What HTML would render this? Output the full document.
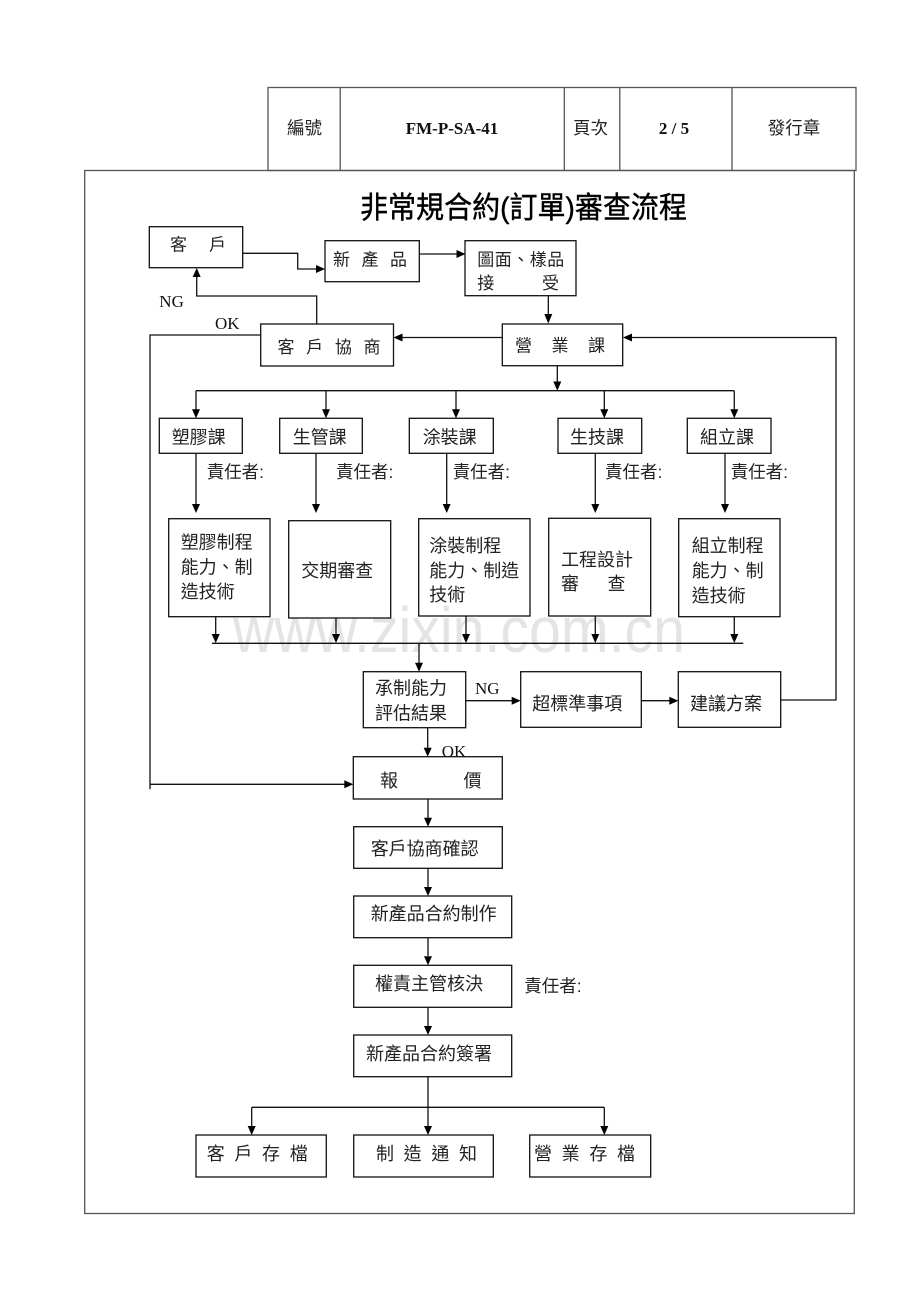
<!DOCTYPE html>
<html><head><meta charset="utf-8"><style>
html,body{margin:0;padding:0;background:#fff;}
svg{display:block;}
.t{font-family:"Liberation Sans","Noto Sans CJK TC",sans-serif;fill:#222;}
.s{font-family:"Liberation Serif","Noto Serif CJK SC",serif;fill:#111;}
</style></head><body>
<svg width="920" height="1302" viewBox="0 0 920 1302" xmlns="http://www.w3.org/2000/svg">
<rect width="920" height="1302" fill="#fff"/>
<!-- watermark -->
<text x="233" y="652" font-family="Liberation Sans, sans-serif" font-size="64" textLength="452" lengthAdjust="spacingAndGlyphs" fill="#e4e4e4">www.zixin.com.cn</text>

<!-- header table -->
<g fill="none" stroke="#555" stroke-width="1.3">
<rect x="268" y="87.5" width="588" height="83"/>
<line x1="340.2" y1="87.5" x2="340.2" y2="170.5"/>
<line x1="564.3" y1="87.5" x2="564.3" y2="170.5"/>
<line x1="619.8" y1="87.5" x2="619.8" y2="170.5"/>
<line x1="732" y1="87.5" x2="732" y2="170.5"/>
<!-- frame -->
<rect x="84.7" y="170.5" width="769.6" height="1043"/>
</g>
<text class="t" x="304.5" y="134" font-size="17.5" text-anchor="middle">編號</text>
<text class="s" x="452" y="134" font-size="17" font-weight="bold" text-anchor="middle">FM-P-SA-41</text>
<text class="t" x="590.5" y="134" font-size="17.5" text-anchor="middle">頁次</text>
<text class="s" x="674" y="134" font-size="17" font-weight="bold" text-anchor="middle">2 / 5</text>
<text class="t" x="794" y="134" font-size="17.5" text-anchor="middle">發行章</text>

<!-- title -->
<text class="t" x="360" y="218" font-size="30" textLength="327" lengthAdjust="spacingAndGlyphs" style="fill:#000;stroke:#000;stroke-width:0.4">非常規合約(訂單)審查流程</text>

<!-- boxes -->
<g fill="none" stroke="#111" stroke-width="1.3">
<rect x="149.3" y="226.7" width="93.4" height="41"/>
<rect x="325" y="240.7" width="94.3" height="41"/>
<rect x="465" y="240.7" width="111" height="55"/>
<rect x="502.3" y="324" width="120.4" height="41.7"/>
<rect x="260.7" y="324" width="132.8" height="42"/>
<rect x="159.3" y="418.3" width="83" height="35"/>
<rect x="279.7" y="418.3" width="82.6" height="35"/>
<rect x="409.3" y="418.3" width="84" height="35"/>
<rect x="558" y="418.3" width="83.7" height="35"/>
<rect x="687.3" y="418.3" width="83.7" height="35"/>
<rect x="168.7" y="518.7" width="101.3" height="98"/>
<rect x="288.7" y="520.7" width="102" height="97.3"/>
<rect x="418.7" y="518.7" width="111.3" height="97.3"/>
<rect x="548.7" y="518.3" width="102" height="97.7"/>
<rect x="678.7" y="518.7" width="101.3" height="98"/>
<rect x="363.3" y="671.7" width="102.4" height="56"/>
<rect x="520.7" y="671.7" width="120.6" height="55.6"/>
<rect x="678.3" y="671.7" width="102.4" height="55.6"/>
<rect x="353.3" y="756.7" width="149" height="42.3"/>
<rect x="353.7" y="826.7" width="148.6" height="41.6"/>
<rect x="353.7" y="896" width="158" height="41.7"/>
<rect x="353.7" y="965.3" width="158" height="42"/>
<rect x="353.7" y="1035" width="158" height="41.7"/>
<rect x="196" y="1135" width="130.3" height="42"/>
<rect x="353.7" y="1135" width="139.6" height="42"/>
<rect x="529.7" y="1135" width="121" height="42"/>
</g>

<!-- connectors -->
<g fill="none" stroke="#111" stroke-width="1.3">
<polyline points="242.7,253.3 297.7,253.3 297.7,269 317,269"/>
<line x1="419.3" y1="254" x2="457" y2="254"/>
<line x1="548.3" y1="296" x2="548.3" y2="315"/>
<line x1="502.3" y1="337.5" x2="402" y2="337.5"/>
<polyline points="316.7,324 316.7,296 196.7,296 196.7,277"/>
<polyline points="260.7,335 150,335 150,789.3"/>
<line x1="150" y1="784.3" x2="345" y2="784.3"/>
<line x1="557.3" y1="365.7" x2="557.3" y2="382"/>
<line x1="196" y1="390.7" x2="734.3" y2="390.7"/>
<line x1="196" y1="390.7" x2="196" y2="410"/>
<line x1="326" y1="390.7" x2="326" y2="410"/>
<line x1="456" y1="390.7" x2="456" y2="410"/>
<line x1="604.3" y1="390.7" x2="604.3" y2="410"/>
<line x1="734.3" y1="390.7" x2="734.3" y2="410"/>
<line x1="196" y1="453.3" x2="196" y2="505"/>
<line x1="316" y1="453.3" x2="316" y2="505"/>
<line x1="446.7" y1="453.3" x2="446.7" y2="505"/>
<line x1="595.3" y1="453.3" x2="595.3" y2="505"/>
<line x1="725" y1="453.3" x2="725" y2="505"/>
<line x1="215.7" y1="616.7" x2="215.7" y2="635"/>
<line x1="336" y1="618" x2="336" y2="635"/>
<line x1="466" y1="616" x2="466" y2="635"/>
<line x1="595.3" y1="616" x2="595.3" y2="635"/>
<line x1="734.3" y1="616.7" x2="734.3" y2="635"/>
<line x1="212" y1="643.3" x2="743.3" y2="643.3"/>
<line x1="419" y1="643.3" x2="419" y2="663"/>
<line x1="465.7" y1="700.7" x2="512" y2="700.7"/>
<line x1="641.3" y1="700.7" x2="670" y2="700.7"/>
<polyline points="780.7,700 836,700 836,337.5 632,337.5"/>
<line x1="427.7" y1="727.7" x2="427.7" y2="748"/>
<line x1="428" y1="799" x2="428" y2="818"/>
<line x1="428" y1="868.3" x2="428" y2="887"/>
<line x1="428" y1="937.7" x2="428" y2="956"/>
<line x1="428" y1="1007.3" x2="428" y2="1026"/>
<line x1="428" y1="1076.7" x2="428" y2="1126"/>
<line x1="251.7" y1="1107.3" x2="604.3" y2="1107.3"/>
<line x1="251.7" y1="1107.3" x2="251.7" y2="1126"/>
<line x1="604.3" y1="1107.3" x2="604.3" y2="1126"/>
</g>

<!-- arrowheads -->
<g fill="#000" stroke="none">
<polygon points="316,265 316,273 325,269"/>
<polygon points="456.5,250 456.5,258 465.5,254"/>
<polygon points="544.3,314 552.3,314 548.3,323.5"/>
<polygon points="402.5,333.5 402.5,341.5 393.5,337.5"/>
<polygon points="192.7,277 200.7,277 196.7,268"/>
<polygon points="344.3,780.3 344.3,788.3 353.3,784.3"/>
<polygon points="553.3,381.5 561.3,381.5 557.3,390.7"/>
<polygon points="192,409.3 200,409.3 196,418.3"/>
<polygon points="322,409.3 330,409.3 326,418.3"/>
<polygon points="452,409.3 460,409.3 456,418.3"/>
<polygon points="600.3,409.3 608.3,409.3 604.3,418.3"/>
<polygon points="730.3,409.3 738.3,409.3 734.3,418.3"/>
<polygon points="192,504 200,504 196,513"/>
<polygon points="312,504 320,504 316,513"/>
<polygon points="442.7,504 450.7,504 446.7,513"/>
<polygon points="591.3,504 599.3,504 595.3,513"/>
<polygon points="721,504 729,504 725,513"/>
<polygon points="211.7,634 219.7,634 215.7,643"/>
<polygon points="332,634 340,634 336,643"/>
<polygon points="462,634 470,634 466,643"/>
<polygon points="591.3,634 599.3,634 595.3,643"/>
<polygon points="730.3,634 738.3,634 734.3,643"/>
<polygon points="415,662.7 423,662.7 419,671.7"/>
<polygon points="511.7,696.7 511.7,704.7 520.7,700.7"/>
<polygon points="669.3,696.7 669.3,704.7 678.3,700.7"/>
<polygon points="632,333.5 632,341.5 623,337.5"/>
<polygon points="423.7,747.7 431.7,747.7 427.7,756.7"/>
<polygon points="424,817.7 432,817.7 428,826.7"/>
<polygon points="424,887 432,887 428,896"/>
<polygon points="424,956.3 432,956.3 428,965.3"/>
<polygon points="424,1026 432,1026 428,1035"/>
<polygon points="424,1126 432,1126 428,1135"/>
<polygon points="247.7,1126 255.7,1126 251.7,1135"/>
<polygon points="600.3,1126 608.3,1126 604.3,1135"/>
</g>

<!-- labels -->
<g class="t">
<text class="t" x="170" y="250.5" font-size="17" textLength="56">客戶</text>
<text class="t" x="333" y="265.5" font-size="17" textLength="74">新產品</text>
<text class="t" x="477.3" y="265.5" font-size="17" textLength="87">圖面、樣品</text>
<text class="t" x="477.3" y="289" font-size="17">接</text>
<text class="t" x="542" y="289" font-size="17">受</text>
<text class="t" x="515" y="351.5" font-size="17" textLength="90">營業課</text>
<text class="t" x="277.5" y="353" font-size="17" textLength="103">客戶協商</text>

<text class="t" x="171.7" y="443.5" font-size="18">塑膠課</text>
<text class="t" x="292.7" y="443.5" font-size="18">生管課</text>
<text class="t" x="422.7" y="443.5" font-size="18">涂裝課</text>
<text class="t" x="570" y="443.5" font-size="18">生技課</text>
<text class="t" x="700" y="443.5" font-size="18">組立課</text>

<text class="t" x="206.7" y="478" font-size="17.5">責任者:</text>
<text class="t" x="336" y="478" font-size="17.5">責任者:</text>
<text class="t" x="452.7" y="478" font-size="17.5">責任者:</text>
<text class="t" x="605" y="478" font-size="17.5">責任者:</text>
<text class="t" x="730.7" y="478" font-size="17.5">責任者:</text>

<text class="t" x="180.7" y="548.5" font-size="18">塑膠制程</text>
<text class="t" x="180.7" y="573.5" font-size="18">能力、制</text>
<text class="t" x="180.7" y="598" font-size="18">造技術</text>

<text class="t" x="301.3" y="577" font-size="18">交期審查</text>

<text class="t" x="429.3" y="552" font-size="18">涂裝制程</text>
<text class="t" x="429.3" y="577" font-size="18">能力、制造</text>
<text class="t" x="429.3" y="601" font-size="18">技術</text>

<text class="t" x="561" y="566" font-size="18">工程設計</text>
<text class="t" x="561" y="590" font-size="18">審</text>
<text class="t" x="607.5" y="590" font-size="18">查</text>

<text class="t" x="691.7" y="552" font-size="18">組立制程</text>
<text class="t" x="691.7" y="577" font-size="18">能力、制</text>
<text class="t" x="691.7" y="602" font-size="18">造技術</text>

<text class="t" x="375" y="694.5" font-size="18">承制能力</text>
<text class="t" x="375" y="719.5" font-size="18">評估結果</text>
<text class="t" x="532.3" y="710" font-size="18">超標準事項</text>
<text class="t" x="690" y="710" font-size="18">建議方案</text>

<text class="t" x="380" y="787" font-size="18">報</text>
<text class="t" x="463.5" y="787" font-size="18">價</text>
<text class="t" x="370.7" y="855" font-size="18">客戶協商確認</text>
<text class="t" x="370.7" y="920" font-size="18">新產品合約制作</text>
<text class="t" x="375" y="990" font-size="18">權責主管核決</text>
<text class="t" x="524.3" y="992" font-size="17.5">責任者:</text>
<text class="t" x="366" y="1060" font-size="18">新產品合約簽署</text>

<text class="t" x="206.7" y="1160" font-size="18" textLength="101">客戶存檔</text>
<text class="t" x="376" y="1160" font-size="18" textLength="101">制造通知</text>
<text class="t" x="534" y="1160" font-size="18" textLength="101">營業存檔</text>
</g>

<text class="s" x="159.3" y="307" font-size="17">NG</text>
<text class="s" x="215" y="329" font-size="17">OK</text>
<text class="s" x="475" y="694" font-size="17">NG</text>
<text class="s" x="441.7" y="757" font-size="17">OK</text>
</svg>
</body></html>
